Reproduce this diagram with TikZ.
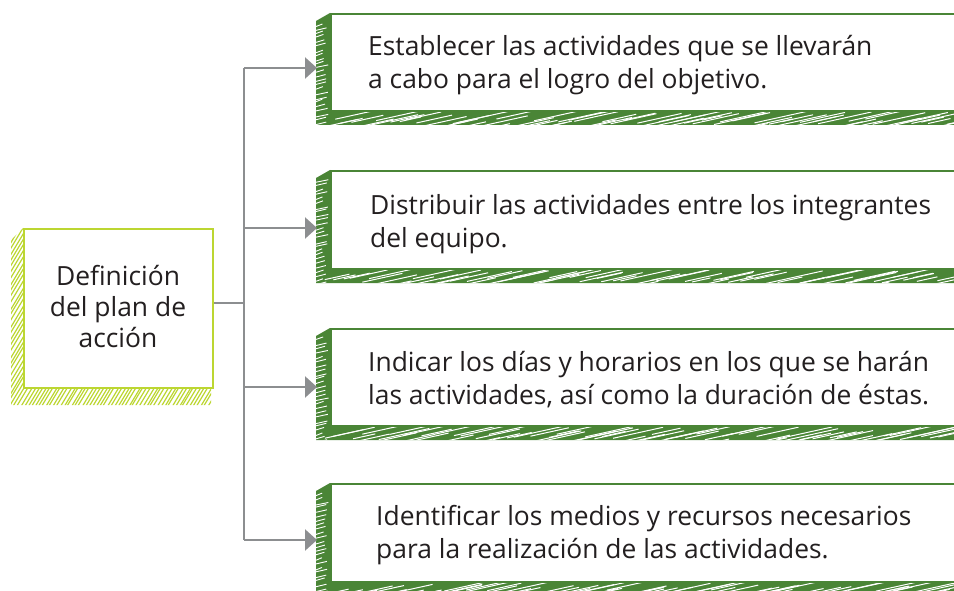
\documentclass[tikz,border=0pt]{standalone}
\usepackage{fontspec}
\setmainfont{Open Sans}
\usetikzlibrary{arrows.meta,calc}
\definecolor{dgreen}{HTML}{4A8536}
\definecolor{lgreen}{HTML}{BCD631}
\definecolor{agray}{HTML}{8C8E90}
\definecolor{txt}{HTML}{231F20}
\newcommand{\darkshadow}[2]{%
  \fill[dgreen] (330,#1) -- (316,#1+8) -- (316,#2+15) -- (954,#2+15) -- (954,#2) -- (330,#2) -- cycle;
  \begin{scope}
    \clip (330,#1) -- (316,#1+8) -- (316,#2+15) -- (954,#2+15) -- (954,#2) -- (330,#2) -- cycle;
    \foreach \k in {0,...,24} {
      \pgfmathsetmacro{\dy}{rnd*3}
      \pgfmathsetmacro{\ln}{6+rnd*7}
      \draw[white, line width=0.9] (316,{#1+11+\k*4.3+\dy}) -- ++(\ln,-2.5);
    }
    \foreach \k in {0,...,70} {
      \pgfmathsetmacro{\dx}{rnd*6}
      \pgfmathsetmacro{\ln}{18+rnd*40}
      \pgfmathsetmacro{\yy}{5+rnd*10}
      \draw[white, line width=1.0] ({322+\k*9+\dx},{#2+\yy+4}) -- ++(\ln,{-\ln*0.22});
    }
  \end{scope}}
\begin{document}
\begin{tikzpicture}[x=1pt,y=-1pt,
  rbox/.style={draw=dgreen, line width=2.2, fill=white, rectangle, anchor=north west, minimum width=640, inner sep=0},
  lbox/.style={draw=lgreen, line width=2.2, fill=white, rectangle, anchor=north west, inner sep=0},
  btext/.style={text=txt, anchor=west, align=left, inner sep=0, font=\fontsize{26.4}{33}\selectfont},
  conn/.style={draw=agray, line width=2.4},
  arr/.style={conn, -{Triangle[length=12pt,width=21pt]}}]
\clip (0,0) rectangle (954,591);
\pgfmathsetseed{7}
% left box shadow (light green hatch)
\begin{scope}
  \clip (23,228) -- (11,240) -- (11,405) -- (211,405) -- (211,387) -- (23,387) -- cycle;
  \foreach \k in {0,...,100} {
    \pgfmathsetmacro{\dx}{rnd*1.5}
    \draw[lgreen, line width=1.2] ({-130+\k*3.6+\dx},410) -- ++(114,-190);
  }
\end{scope}
\node[lbox, minimum width=189, minimum height=159] (L) at (23,228) {};
\node[text=txt, align=center, inner sep=0, font=\fontsize{26.4}{31}\selectfont] (Lt) at (118,307) {Definición\\del plan de\\acción};
% right boxes
\darkshadow{13}{110}
\node[rbox, minimum height=97] (b1) at (330,13) {};
\node[btext] (t1) at (368,65) {Establecer las actividades que se llevarán\\a cabo para el logro del objetivo.};
\darkshadow{170}{268}
\node[rbox, minimum height=98] (b2) at (330,170) {};
\node[btext] (t2) at (370,224) {Distribuir las actividades entre los integrantes\\del equipo.};
\darkshadow{328}{425}
\node[rbox, minimum height=97] (b3) at (330,328) {};
\node[btext] (t3) at (368,380) {Indicar los días y horarios en los que se harán\\las actividades, así como la duración de éstas.};
\darkshadow{483}{581}
\node[rbox, minimum height=98] (b4) at (330,483) {};
\node[btext] (t4) at (376,535) {Identificar los medios y recursos necesarios\\para la realización de las actividades.};
% connectors
\coordinate (j) at (244,303);
\coordinate (a1) at (244,68);
\coordinate (a2) at (244,228);
\coordinate (a3) at (244,387);
\coordinate (a4) at (244,540);
\coordinate (e1) at ($(a1 -| b1.west)+(-13,0)$);
\coordinate (e2) at ($(a2 -| b2.west)+(-13,0)$);
\coordinate (e3) at ($(a3 -| b3.west)+(-13,0)$);
\coordinate (e4) at ($(a4 -| b4.west)+(-13,0)$);
\draw[conn] (L.east |- j) -- (j);
\draw[conn] (a1) -- (a4);
\draw[arr] (a1) -- (e1);
\draw[arr] (a2) -- (e2);
\draw[arr] (a3) -- (e3);
\draw[arr] (a4) -- (e4);
\end{tikzpicture}
\end{document}
